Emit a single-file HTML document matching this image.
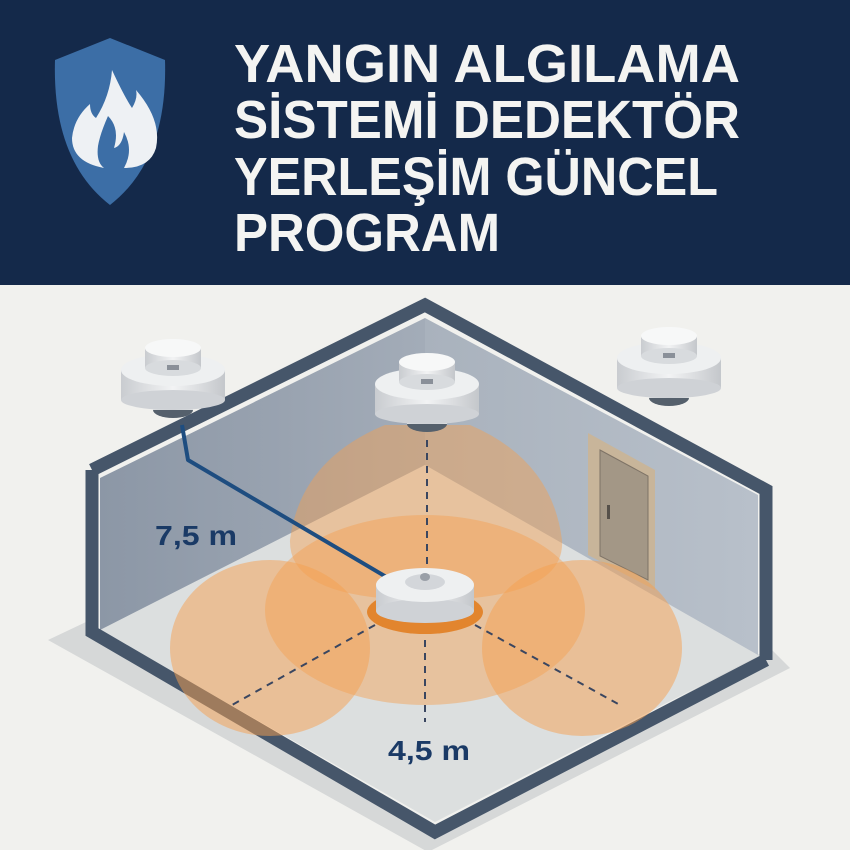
<!DOCTYPE html>
<html><head><meta charset="utf-8"><style>
html,body{margin:0;padding:0;background:#f1f1ee}
svg{display:block}
</style></head><body>
<svg width="850" height="850" viewBox="0 0 850 850" xmlns="http://www.w3.org/2000/svg">
<defs>
<linearGradient id="wl" x1="0" y1="0" x2="1" y2="0"><stop offset="0" stop-color="#8c97a6"/><stop offset="1" stop-color="#a3acb8"/></linearGradient>
<linearGradient id="wr" x1="0" y1="0" x2="1" y2="0"><stop offset="0" stop-color="#a9b2bd"/><stop offset="1" stop-color="#b8c0ca"/></linearGradient>
<linearGradient id="det" x1="0" y1="0" x2="1" y2="0"><stop offset="0" stop-color="#c9ccd0"/><stop offset="0.5" stop-color="#f2f3f4"/><stop offset="1" stop-color="#c4c7cb"/></linearGradient>
<g id="cd">
<ellipse cx="0" cy="40" rx="20" ry="8" fill="#55606c"/>
<rect x="-20" y="28" width="40" height="12" fill="#dfe1e3"/>
<rect x="-52" y="0" width="104" height="30" fill="url(#det)"/>
<ellipse cx="0" cy="30" rx="52" ry="10" fill="#cfd2d6"/>
<ellipse cx="0" cy="0" rx="52" ry="16" fill="#eef0f1"/>
<rect x="-28" y="-22" width="56" height="20" fill="url(#det)"/>
<ellipse cx="0" cy="-2" rx="28" ry="8" fill="#d8dbde"/>
<ellipse cx="0" cy="-22" rx="28" ry="9" fill="#f7f8f8"/>
<rect x="-6" y="-5" width="12" height="5" fill="#8a9099"/>
</g>
</defs>
<rect width="850" height="850" fill="#f1f1ee"/>
<!-- header -->
<rect width="850" height="285" fill="#14294a"/>
<path d="M55 60 L110 38 L165 60 Q168 160 110 205 Q52 160 55 60Z" fill="#3c6ea6"/>
<path d="M112 70 Q124 96 132 108 Q138 98 136 90 Q162 120 156 148 Q150 168 124 168 Q134 150 124 132 Q122 146 114 148 Q120 128 108 116 Q100 134 98 146 Q96 162 104 168 Q72 162 72 138 Q74 118 90 104 Q90 114 96 118 Q110 96 112 70Z" fill="#eef1f4"/>
<g fill="#f4f4f2" font-family="Liberation Sans, sans-serif" font-weight="bold" font-size="54">
<text x="234" y="82" textLength="506" lengthAdjust="spacingAndGlyphs">YANGIN ALGILAMA</text>
<text x="234" y="138" textLength="506" lengthAdjust="spacingAndGlyphs">SİSTEMİ DEDEKTÖR</text>
<text x="234" y="195" textLength="484" lengthAdjust="spacingAndGlyphs">YERLEŞİM GÜNCEL</text>
<text x="234" y="251" textLength="266" lengthAdjust="spacingAndGlyphs">PROGRAM</text>
</g>
<!-- shadow -->
<path d="M86 622 L48 640 L428 852 L790 668 L770 648 L435 830Z" fill="#d6d8d8"/>
<!-- floor -->
<path d="M100 630 L425 465 L760 655 L435 822Z" fill="#dcdfdf"/>
<!-- walls -->
<path d="M100 478 L425 318 L425 465 L100 630Z" fill="url(#wl)"/>
<path d="M425 318 L758 495 L758 655 L425 465Z" fill="url(#wr)"/>
<!-- outline -->
<path d="M92 470 L425 305 L766 490 L766 660" fill="none" stroke="#46566a" stroke-width="13" stroke-linejoin="miter"/>
<path d="M92 470 L92 632 L435 832 L766 660" fill="none" stroke="#46566a" stroke-width="13"/>
<!-- door -->
<path d="M588 433 L655 470 L655 590 L588 555Z" fill="#c8b59a"/>
<path d="M600 450 L648 476 L648 580 L600 556Z" fill="#a39786" stroke="#7e7366" stroke-width="1"/>
<rect x="607" y="505" width="3" height="14" fill="#55504a"/>
<!-- cones -->
<g fill="#f5a050">
<path d="M385 425 Q300 460 290 540 Q288 600 427 600 Q566 600 562 540 Q552 460 470 425Z" opacity="0.45"/>
<ellipse cx="270" cy="648" rx="100" ry="88" opacity="0.5"/>
<ellipse cx="582" cy="648" rx="100" ry="88" opacity="0.5"/>
<ellipse cx="425" cy="610" rx="160" ry="95" opacity="0.45"/>
</g>
<!-- dashed -->
<g stroke="#3a4660" stroke-width="2" stroke-dasharray="7 6" fill="none">
<line x1="427" y1="440" x2="427" y2="570"/>
<line x1="375" y1="625" x2="232" y2="705"/>
<line x1="425" y1="640" x2="425" y2="722"/>
<line x1="475" y1="625" x2="620" y2="705"/>
</g>
<!-- blue line -->
<path d="M182 425 L188 460 L388 578" fill="none" stroke="#1e4d80" stroke-width="4" stroke-linejoin="round"/>
<!-- ceiling detectors -->
<use href="#cd" transform="translate(173,370)"/>
<use href="#cd" transform="translate(427,384)"/>
<use href="#cd" transform="translate(669,358)"/>
<!-- floor detector -->
<ellipse cx="425" cy="612" rx="58" ry="22" fill="#e2852e"/>
<rect x="376" y="585" width="98" height="26" fill="url(#det)"/>
<ellipse cx="425" cy="611" rx="49" ry="12" fill="#cfd2d6"/>
<ellipse cx="425" cy="585" rx="49" ry="17" fill="#eef0f1"/>
<ellipse cx="425" cy="582" rx="20" ry="8" fill="#d3d6da"/>
<ellipse cx="425" cy="577" rx="5" ry="4" fill="#9aa0a8"/>
<!-- labels -->
<g fill="#1a3a66" font-family="Liberation Sans, sans-serif" font-weight="bold" font-size="28">
<text x="155" y="545" textLength="82" lengthAdjust="spacingAndGlyphs">7,5 m</text>
<text x="388" y="760" textLength="82" lengthAdjust="spacingAndGlyphs">4,5 m</text>
</g>
</svg>
</body></html>
